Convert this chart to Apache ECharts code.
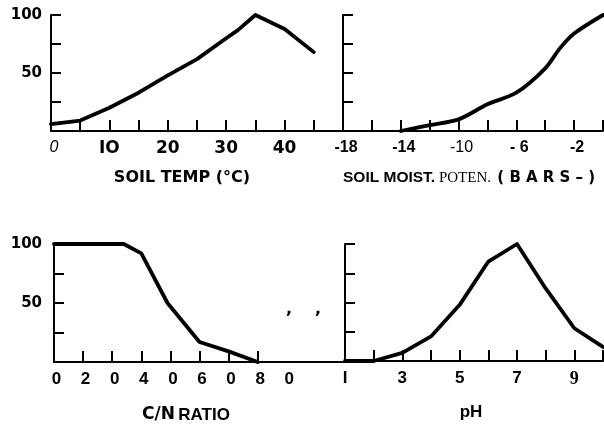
<!DOCTYPE html>
<html>
<head>
<meta charset="utf-8">
<script src="https://cdn.jsdelivr.net/npm/echarts@6/dist/echarts.min.js"></script>
<style>
  html, body { margin: 0; padding: 0; background: #fff; }
  #chart { width: 604px; height: 426px; }
</style>
</head>
<body>
<div id="chart"></div>
<script>
// Relative activity (%) against soil temperature (°C)
const tempX = [0, 5, 10, 15, 20, 25, 30, 32, 35, 40, 45];
const tempY = [6, 9, 20, 33, 48, 62, 80, 87, 100, 88, 68];
const tempTickValues = [0, 10, 20, 30, 40];
const tempTickLabels = ['0', 'IO', '20', '30', '40'];

// Relative activity (%) against soil moisture potential (bars, negative)
const moistX = [-14, -12, -10, -8, -6, -4, -3, -2, 0];
const moistY = [0, 5, 10, 23, 33, 54, 71, 84, 100];
const moistTickValues = [-18, -14, -10, -6, -2];
const moistTickLabels = ['-18', '-14', '-10', '- 6', '-2'];

// Relative activity (%) against C/N ratio
const cnX = [0, 24, 30, 39, 50, 60, 70];
const cnY = [100, 100, 92, 50, 17, 9, 0];
const cnTickValues = [0, 10, 20, 30, 40, 50, 60, 70, 80];
const cnTickLabels = ['0', '2', '0', '4', '0', '6', '0', '8', '0'];

// Relative activity (%) against pH
const phX = [1, 2, 3, 4, 5, 6, 7, 8, 9, 10];
const phY = [0, 0, 7, 21, 48, 85, 100, 62, 28, 12];
const phTickValues = [1, 3, 5, 7, 9];
const phTickLabels = ['I', '3', '5', '7', '9'];

// Shared activity scale
const yTickValues = [25, 50, 75, 100];
const yLabelValues = [50, 100];

const INK = '#000';
const SANS_WIDE = 'DejaVu Sans';
const SANS = 'Liberation Sans';
const SERIF = 'Liberation Serif';

function pairs(xs, ys) { return xs.map((x, i) => [x, ys[i]]); }

function labelFor(values, labels) {
  return function (v) {
    const i = values.findIndex(t => Math.abs(t - v) < 1e-6);
    return i < 0 ? '' : labels[i];
  };
}

function xAxis(gridIndex, min, max, tickVals, labelVals, labelFmt, labelStyle) {
  return {
    type: 'value', gridIndex, min, max,
    splitLine: { show: false },
    axisLine: { show: true, onZero: false, lineStyle: { color: INK, width: 2 } },
    axisTick: { show: true, inside: true, length: 11, customValues: tickVals,
                lineStyle: { color: INK, width: 2 } },
    axisLabel: Object.assign({ show: true, customValues: labelVals, formatter: labelFmt,
                margin: 9, color: INK, fontWeight: 'bold' }, labelStyle)
  };
}

function yAxis(gridIndex, showLabels, margin) {
  return {
    type: 'value', gridIndex, min: 0, max: 100,
    splitLine: { show: false },
    axisLine: { show: true, onZero: false, lineStyle: { color: INK, width: 2 } },
    axisTick: { show: true, inside: true, length: 10, customValues: yTickValues,
                lineStyle: { color: INK, width: 2 } },
    axisLabel: { show: showLabels, customValues: yLabelValues, margin: margin,
                 color: INK, fontFamily: SANS_WIDE, fontWeight: 'bold', fontSize: 15 }
  };
}

function line(idx, data, smooth) {
  return {
    type: 'line', xAxisIndex: idx, yAxisIndex: idx, data,
    smooth: smooth, showSymbol: false, symbol: 'none',
    lineStyle: { color: INK, width: 3.8, cap: 'round', join: 'round' },
    z: 5
  };
}

const grids = [
  { left: 51, top: 15, width: 292, height: 116 },
  { left: 343, top: 15, width: 260, height: 116 },
  { left: 54, top: 244, width: 291, height: 118 },
  { left: 345, top: 244, width: 258, height: 117 }
].map(g => Object.assign({ outerBoundsMode: 'none', containLabel: false }, g));

const option = {
  backgroundColor: '#fff',
  animation: false,
  grid: grids,
  xAxis: [
    xAxis(0, 0, 50, [5, 10, 15, 20, 25, 30, 35, 40, 45], tempTickValues,
      v => {
        const s = labelFor(tempTickValues, tempTickLabels)(v);
        return v === 0 ? '{i|' + s + '}' : s;
      },
      { fontFamily: SANS_WIDE, fontSize: 17,
        rich: { i: { fontFamily: SANS, fontStyle: 'italic', fontWeight: 'normal', fontSize: 16, color: INK, padding: [0, 0, 0, 6] } } }),
    xAxis(1, -18, 0, [-16, -14, -12, -10, -8, -6, -4, -2, 0], moistTickValues,
      v => {
        const s = labelFor(moistTickValues, moistTickLabels)(v);
        return v === -10 ? '{n|' + s + '}' : s;
      },
      { fontFamily: SANS, fontSize: 16, padding: [0, 0, 0, 6],
        rich: { n: { fontFamily: SANS, fontWeight: 'normal', fontSize: 16, color: INK } } }),
    xAxis(2, 0, 100, [10, 20, 30, 40, 50, 60, 70], cnTickValues,
      v => labelFor(cnTickValues, cnTickLabels)(v),
      { fontFamily: SANS, fontSize: 17, padding: [0, 0, 0, 5] }),
    xAxis(3, 1, 10, [2, 3, 4, 5, 6, 7, 8, 9, 10], phTickValues,
      v => {
        const s = labelFor(phTickValues, phTickLabels)(v);
        return v === 9 ? '{s|' + s + '}' : s;
      },
      { fontFamily: SANS, fontSize: 17,
        rich: { s: { fontFamily: SERIF, fontWeight: 'bold', fontSize: 18, color: INK } } })
  ],
  yAxis: [yAxis(0, true, 9), yAxis(1, false, 9), yAxis(2, true, 12), yAxis(3, false, 9)],
  series: [
    line(0, pairs(tempX, tempY), false),
    line(1, pairs(moistX, moistY), 0.3),
    line(2, pairs(cnX, cnY), false),
    line(3, pairs(phX, phY), false)
  ],
  graphic: [
    { type: 'text', x: 182, y: 178,
      style: { text: 'SOIL TEMP (°C)', fill: INK, font: 'bold 16px "DejaVu Sans"',
               align: 'center', verticalAlign: 'middle' } },
    { type: 'text', x: 343, y: 178,
      style: {
        text: '{a|SOIL MOIST.}{p| POTEN. }{b|(}{b|B}{b|A}{b|R}{b|S}{b|–}{b|)}',
        align: 'left', verticalAlign: 'middle',
        rich: {
          a: { fill: INK, fontFamily: SANS, fontWeight: 'bold', fontSize: 15.5 },
          p: { fill: INK, fontFamily: SERIF, fontWeight: 'normal', fontSize: 15 },
          b: { fill: INK, fontFamily: SANS_WIDE, fontWeight: 'bold', fontSize: 15, padding: [0, 2.6, 0, 2.6] }
        }
      } },
    { type: 'text', x: 186, y: 415,
      style: {
        text: '{c|C/N} {r|RATIO}', align: 'center', verticalAlign: 'middle',
        rich: {
          c: { fill: INK, fontFamily: SANS_WIDE, fontWeight: 'bold', fontSize: 17 },
          r: { fill: INK, fontFamily: SANS, fontWeight: 'bold', fontSize: 17 }
        }
      } },
    { type: 'text', x: 471, y: 412,
      style: { text: 'pH', fill: INK, font: 'bold 17px "Liberation Sans"',
               align: 'center', verticalAlign: 'middle' } },
    { type: 'text', x: 289, y: 310,
      style: { text: ',', fill: INK, font: 'bold 16px "DejaVu Sans"',
               align: 'center', verticalAlign: 'middle' } },
    { type: 'text', x: 318, y: 310,
      style: { text: ',', fill: INK, font: 'bold 16px "DejaVu Sans"',
               align: 'center', verticalAlign: 'middle' } }
  ]
};

const chart = echarts.init(document.getElementById('chart'), null, { renderer: 'canvas' });
chart.setOption(option);
</script>
</body>
</html>
